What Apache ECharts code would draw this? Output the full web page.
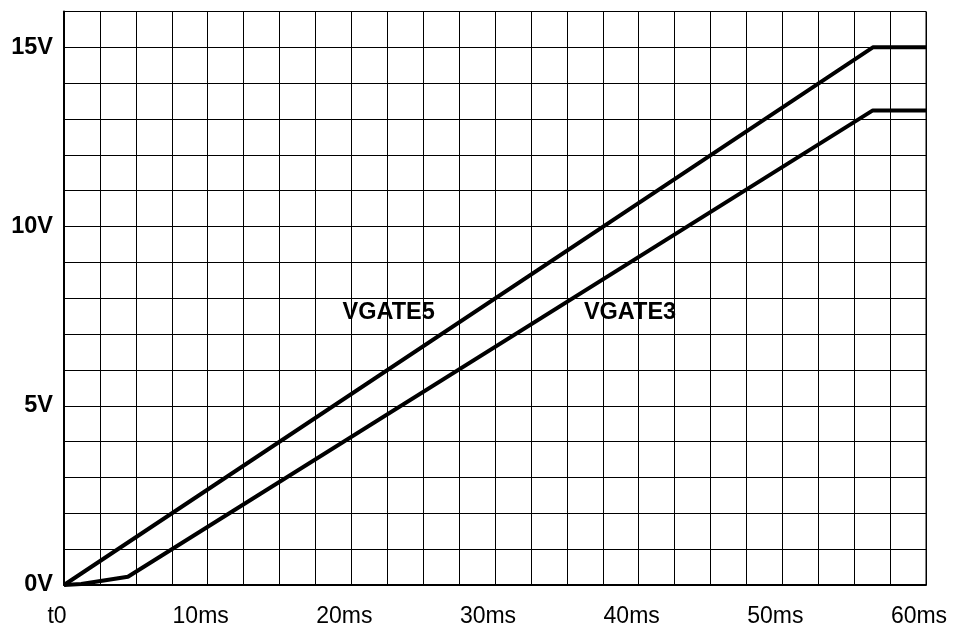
<!DOCTYPE html>
<html>
<head>
<meta charset="utf-8">
<script src="https://cdn.jsdelivr.net/npm/echarts@6/dist/echarts.min.js"></script>
<style>html,body{margin:0;padding:0;background:#fff}#c{width:954px;height:631px}</style>
</head>
<body>
<div id="c"></div>
<script>
const xTicks = [0, 10, 20, 30, 40, 50, 60];
const xTickLabels = ['t0', '10ms', '20ms', '30ms', '40ms', '50ms', '60ms'];
const yTicks = [0, 5, 10, 15];
const yTickLabels = ['0V', '5V', '10V', '15V'];
const vgate5 = [[0, 0], [56.3, 15], [60, 15]];
const vgate3 = [[0, 0], [1.2, 0.03], [4.45, 0.23], [56.3, 13.24], [60, 13.24]];
const seriesNames = ['VGATE5', 'VGATE3'];
const labelPos = [[22.6, 7.6], [39.4, 7.6]];

const font = 'Liberation Sans, Arial, sans-serif';
const chart = echarts.init(document.getElementById('c'));
function mkSeries(name, data, pos) {
  return {
    type: 'line', name: name, data: data, symbol: 'none', animation: false,
    lineStyle: { color: '#000', width: 4 },
    markPoint: {
      symbol: 'circle', symbolSize: 0, animation: false,
      data: [{ coord: pos, value: name }],
      label: { show: true, position: 'inside', formatter: name, color: '#000', fontWeight: 'bold', fontSize: 23.5, fontFamily: font }
    }
  };
}
chart.setOption({
  animation: false,
  grid: { left: 64, right: 28, top: 11.5, bottom: 46, show: true, borderColor: '#000', borderWidth: 1 },
  xAxis: {
    type: 'value', min: 0, max: 60, interval: 2.5,
    axisLine: { show: true, onZero: false, lineStyle: { color: '#000', width: 2 } },
    axisTick: { show: false },
    splitLine: { show: true, lineStyle: { color: '#000', width: 1 } },
    axisLabel: {
      color: '#000', fontSize: 23, fontFamily: font, margin: 20, padding: [0, 14, 0, 0],
      formatter: function (v) { const i = xTicks.indexOf(v); return i >= 0 ? xTickLabels[i] : ''; }
    }
  },
  yAxis: {
    type: 'value', min: 0, max: 16, interval: 1,
    axisLine: { show: true, lineStyle: { color: '#000', width: 2 } },
    axisTick: { show: false },
    splitLine: { show: true, lineStyle: { color: '#000', width: 1 } },
    axisLabel: {
      color: '#000', fontSize: 23.5, fontWeight: 'bold', fontFamily: font, margin: 11, padding: [0, 0, 13, 0],
      formatter: function (v) { const i = yTicks.indexOf(v); return i >= 0 ? yTickLabels[i] : ''; }
    }
  },
  series: [mkSeries(seriesNames[0], vgate5, labelPos[0]), mkSeries(seriesNames[1], vgate3, labelPos[1])]
});
</script>
</body>
</html>
